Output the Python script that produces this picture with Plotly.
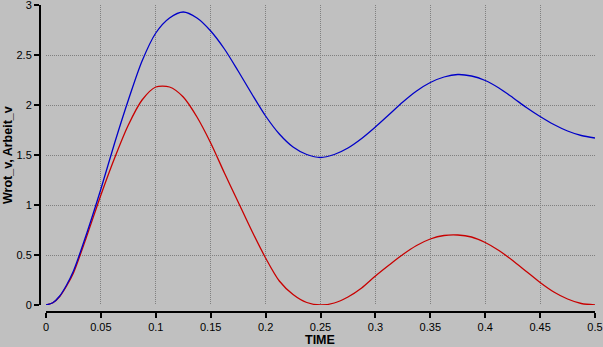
import plotly.graph_objects as go

time = [0, 0.00625, 0.0125, 0.01875, 0.025, 0.0375, 0.05, 0.0625, 0.075, 0.0875, 0.1, 0.1125,
        0.125, 0.1375, 0.15, 0.1625, 0.175, 0.1875, 0.2, 0.2125, 0.225, 0.2375, 0.25, 0.2625,
        0.275, 0.2875, 0.3, 0.3125, 0.325, 0.3375, 0.35, 0.3625, 0.375, 0.3875, 0.4, 0.4125,
        0.425, 0.4375, 0.45, 0.4625, 0.475, 0.4875, 0.5]

wrot_v = [0, 0.023, 0.09, 0.2, 0.34, 0.73, 1.16, 1.62, 2.05, 2.44, 2.72, 2.87,
          2.93, 2.87, 2.74, 2.56, 2.34, 2.11, 1.89, 1.71, 1.58, 1.505, 1.475, 1.505,
          1.57, 1.665, 1.78, 1.905, 2.03, 2.14, 2.225, 2.28, 2.305, 2.29, 2.245, 2.17,
          2.075, 1.975, 1.885, 1.805, 1.74, 1.695, 1.67]

arbeit_v = [0, 0.022, 0.085, 0.19, 0.32, 0.70, 1.10, 1.47, 1.80, 2.05, 2.18, 2.18,
            2.08, 1.88, 1.62, 1.32, 1.03, 0.74, 0.47, 0.24, 0.105, 0.025, 0, 0.02,
            0.08, 0.17, 0.29, 0.40, 0.505, 0.595, 0.66, 0.695, 0.70, 0.68, 0.625, 0.545,
            0.445, 0.335, 0.225, 0.13, 0.06, 0.015, 0]

x_ticks = [0, 0.05, 0.1, 0.15, 0.2, 0.25, 0.3, 0.35, 0.4, 0.45, 0.5]
x_labels = ["0", "0.05", "0.1", "0.15", "0.2", "0.25", "0.3", "0.35", "0.4", "0.45", "0.5"]
y_ticks = [0, 0.5, 1, 1.5, 2, 2.5, 3]
y_labels = ["0", "0.5", "1", "1.5", "2", "2.5", "3"]

BG = "#c0c0c0"
FONT = "Liberation Sans, Arial, sans-serif"

fig = go.Figure()
fig.add_trace(go.Scatter(x=time, y=arbeit_v, mode="lines", name="Arbeit_v",
                         line=dict(color="#c80000", width=1.3, shape="spline", smoothing=0.8)))
fig.add_trace(go.Scatter(x=time, y=wrot_v, mode="lines", name="Wrot_v",
                         line=dict(color="#0000c8", width=1.3, shape="spline", smoothing=0.8)))

W, H = 603, 347
ml, mr, mt, mb = 40, 8, 5, 35
pw = W - ml - mr
ph = H - mt - mb

axis_common = dict(
    showgrid=True, gridcolor="#808080", gridwidth=1, griddash="1px,1px",
    zeroline=False, showline=True, linecolor="black", linewidth=2,
    ticks="outside", ticklen=5, tickwidth=2, tickcolor="black",
    tickfont=dict(family=FONT, size=11, color="black"),
    ticklabeloverflow="allow",
    anchor="free", position=0, fixedrange=True, automargin=False,
)

fig.update_layout(
    width=W, height=H,
    margin=dict(l=ml, r=mr, t=mt, b=mb, pad=0, autoexpand=False),
    paper_bgcolor=BG, plot_bgcolor=BG,
    showlegend=False,
    xaxis=dict(domain=[6 / pw, 1], range=[0, 0.5], tickmode="array",
               tickvals=x_ticks, ticktext=x_labels, **axis_common),
    yaxis=dict(domain=[7 / ph, 1], range=[0, 3], tickmode="array",
               tickvals=y_ticks, ticktext=y_labels, **axis_common),
    annotations=[
        dict(text="<b>TIME</b>", x=(320.5 - ml) / pw, y=(H - mb - 340) / ph,
             xref="paper", yref="paper", xanchor="center", yanchor="middle",
             showarrow=False, font=dict(family=FONT, size=12.5, color="black")),
        dict(text="<b>Wrot_v, Arbeit_v</b>", x=(8 - ml) / pw, y=(H - mb - 155) / ph,
             xref="paper", yref="paper", xanchor="center", yanchor="middle",
             textangle=-90, showarrow=False,
             font=dict(family=FONT, size=12.5, color="black")),
    ],
)

fig.write_html(
    "out.html",
    config={"displayModeBar": False},
    post_script="document.body.style.margin='0';document.body.style.overflow='hidden';",
)
